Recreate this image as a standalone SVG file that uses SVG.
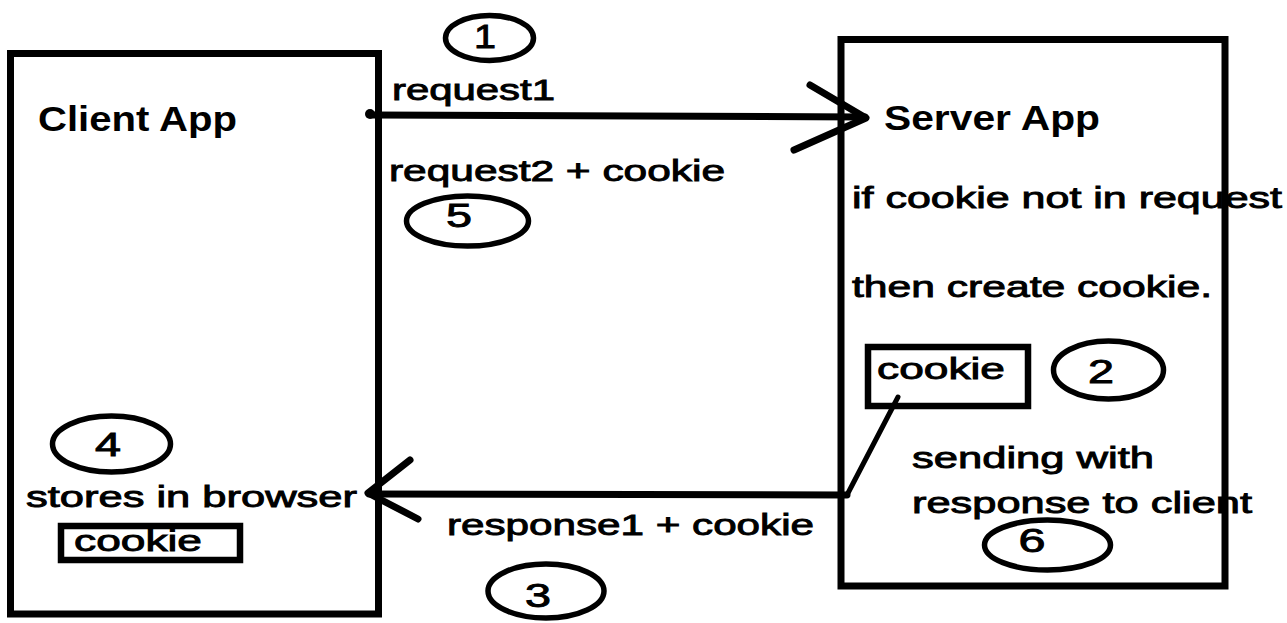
<svg xmlns="http://www.w3.org/2000/svg" width="1287" height="623" viewBox="0 0 1287 623">
<style>
.box{fill:none;stroke:#000;stroke-width:7}
.sbox{fill:none;stroke:#000;stroke-width:6.5}
.ell{fill:none;stroke:#000;stroke-width:5.5}
.ln{fill:none;stroke:#000;stroke-width:7;stroke-linecap:round;stroke-linejoin:round}
.thin{fill:none;stroke:#000;stroke-width:5;stroke-linecap:round}
text{font-family:"Liberation Sans",Arial,sans-serif;fill:#000}
.h{font-weight:bold;font-size:35px}
.l{font-size:30px;stroke:#000;stroke-width:0.9}
.n{font-size:33px;text-anchor:middle;stroke:#000;stroke-width:0.9}
</style>
<rect width="1287" height="623" fill="#fff"/>
<g id="client">
<rect class="box" x="10.5" y="53.5" width="368" height="560.5"/>
<text class="h" x="38" y="131" textLength="199" lengthAdjust="spacingAndGlyphs">Client App</text>
<text class="l" x="26" y="507" textLength="331" lengthAdjust="spacingAndGlyphs" font-size="29">stores in browser</text>
</g>
<g id="client-cookie">
<rect class="sbox" x="61" y="526" width="179" height="34"/>
<text class="l" x="74" y="551" textLength="128" lengthAdjust="spacingAndGlyphs" font-size="28">cookie</text>
</g>
<g id="server">
<rect class="box" x="841" y="39.5" width="384" height="546.5"/>
<text class="h" x="884" y="130" textLength="216" lengthAdjust="spacingAndGlyphs">Server App</text>
<text class="l" x="852" y="208" textLength="430" lengthAdjust="spacingAndGlyphs" font-size="33">if cookie not in request</text>
<text class="l" x="852" y="297" textLength="360" lengthAdjust="spacingAndGlyphs" font-size="33">then create cookie.</text>
<text class="l" x="912" y="468" textLength="242" lengthAdjust="spacingAndGlyphs" font-size="29">sending with</text>
<text class="l" x="912" y="513" textLength="340" lengthAdjust="spacingAndGlyphs" font-size="31">response to client</text>
</g>
<g id="server-cookie">
<rect class="sbox" x="868" y="347" width="160" height="59"/>
<text class="l" x="877" y="379" textLength="128" lengthAdjust="spacingAndGlyphs" font-size="31">cookie</text>
</g>
<g id="step1"><ellipse class="ell" cx="489.5" cy="38" rx="44" ry="22.5"/><text class="n" x="485" y="48" textLength="22" lengthAdjust="spacingAndGlyphs">1</text></g>
<g id="step2"><ellipse class="ell" cx="1108.5" cy="370" rx="55" ry="29"/><text class="n" x="1101" y="383" textLength="26" lengthAdjust="spacingAndGlyphs">2</text></g>
<g id="step3"><ellipse class="ell" cx="546" cy="591" rx="58" ry="27"/><text class="n" x="538" y="607" textLength="26" lengthAdjust="spacingAndGlyphs">3</text></g>
<g id="step4"><ellipse class="ell" cx="111.5" cy="444" rx="59" ry="28"/><text class="n" x="108" y="456" textLength="26" lengthAdjust="spacingAndGlyphs">4</text></g>
<g id="step5"><ellipse class="ell" cx="467.5" cy="221" rx="61" ry="25"/><text class="n" x="459" y="227" textLength="26" lengthAdjust="spacingAndGlyphs">5</text></g>
<g id="step6"><ellipse class="ell" cx="1047.5" cy="545" rx="63" ry="25"/><text class="n" x="1032" y="552" textLength="27" lengthAdjust="spacingAndGlyphs">6</text></g>
<g id="connectors">
<line class="ln" x1="372" y1="115" x2="865" y2="117"/>
<circle cx="370" cy="114" r="5"/>
<polyline class="ln" points="810,85 866,118 794,150"/>
<text class="l" x="392" y="100" textLength="163" lengthAdjust="spacingAndGlyphs" font-size="29">request1</text>
<text class="l" x="389" y="181" textLength="336" lengthAdjust="spacingAndGlyphs" font-size="29">request2 + cookie</text>
<line class="ln" x1="847" y1="495" x2="369" y2="494"/>
<polyline class="ln" points="410,460 368,493 418,519"/>
<line class="thin" x1="898" y1="397" x2="847" y2="495"/>
<text class="l" x="447" y="535" textLength="367" lengthAdjust="spacingAndGlyphs" font-size="31">response1 + cookie</text>
</g>
</svg>
